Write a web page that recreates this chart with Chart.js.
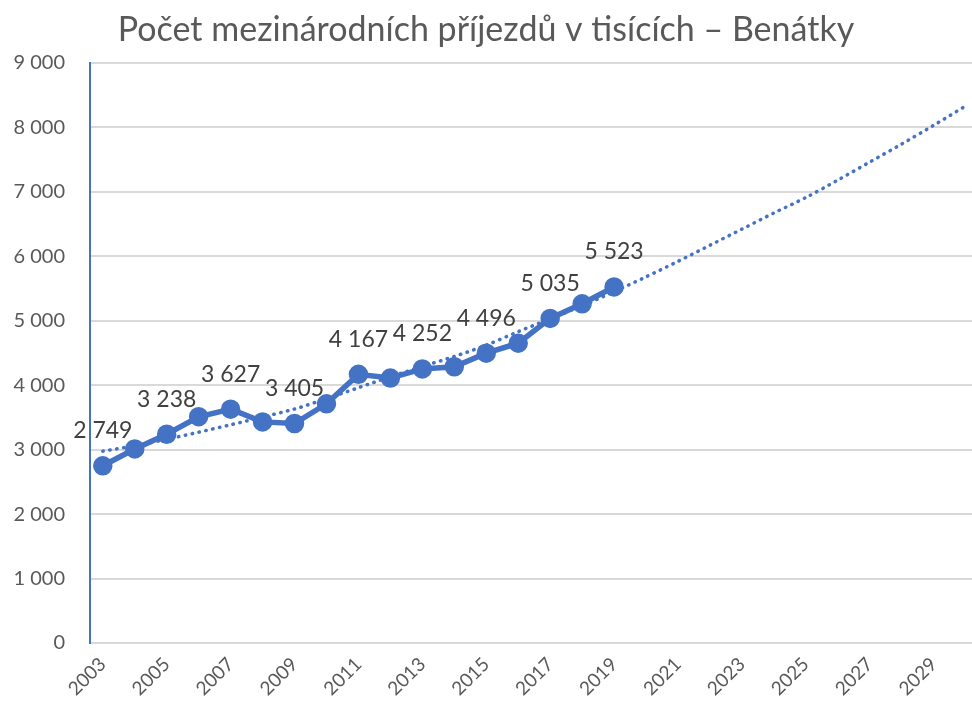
<!DOCTYPE html>
<html>
<head>
<meta charset="utf-8">
<script src="https://cdn.jsdelivr.net/npm/chart.js"></script>
<style>
  html, body { margin: 0; padding: 0; background: #fff; }
  #wrap { width: 972px; height: 707px; }
</style>
</head>
<body>
<div id="wrap"><canvas id="chart"></canvas></div>

<script>
    // arrivals (thousands)
    const years = [2003, 2004, 2005, 2006, 2007, 2008, 2009, 2010, 2011,
                   2012, 2013, 2014, 2015, 2016, 2017, 2018, 2019];
    const arrivals = [2749, 3010, 3238, 3510, 3627, 3430, 3405, 3710, 4167,
                      4110, 4252, 4285, 4496, 4650, 5035, 5262, 5523];

    // dotted trend line, extends to 2030
    const trendYears = [2003, 2004, 2005, 2006, 2007, 2008, 2009, 2010, 2011, 2012,
                        2013, 2014, 2015, 2016, 2017, 2018, 2019, 2020, 2021, 2022,
                        2023, 2024, 2025, 2026, 2027, 2028, 2029, 2030];
    const trend = [2975, 3060, 3160, 3270, 3385, 3505, 3630, 3790, 3960, 4130,
                   4290, 4445, 4620, 4830, 5030, 5230, 5450, 5680, 5920, 6170,
                   6420, 6670, 6910, 7180, 7460, 7740, 8030, 8330];

    const xTicks = [2003, 2005, 2007, 2009, 2011, 2013, 2015, 2017, 2019,
                    2021, 2023, 2025, 2027, 2029];
    const yTicks = [0, 1000, 2000, 3000, 4000, 5000, 6000, 7000, 8000, 9000];

    const blue = '#4472C4';
    const grey = '#595959';
    const fmt = v => String(v).replace(/\B(?=(\d{3})+(?!\d))/g, ' ');

    // value labels above every other point
    const valueLabels = {
        id: 'valueLabels',
        afterDatasetsDraw(chart) {
            const ctx = chart.ctx;
            const meta = chart.getDatasetMeta(0);
            ctx.save();
            ctx.font = '23px Lato';
            ctx.fillStyle = '#404040';
            ctx.textAlign = 'center';
            ctx.textBaseline = 'middle';
            meta.data.forEach((pt, i) => {
                if (i % 2 === 0) ctx.fillText(fmt(arrivals[i]), pt.x, pt.y - 35);
            });
            ctx.restore();
        }
    };

    new Chart(document.getElementById('chart'), {
        type: 'line',
        data: {
            datasets: [{
                data: years.map((y, i) => ({ x: y, y: arrivals[i] })),
                borderColor: blue,
                backgroundColor: blue,
                borderWidth: 5.5,
                pointRadius: 7,
                pointHoverRadius: 7,
                order: 1
            }, {
                data: trendYears.map((y, i) => ({ x: y, y: trend[i] })),
                borderColor: blue,
                borderWidth: 3.5,
                borderDash: [0.5, 6.5],
                borderCapStyle: 'round',
                pointRadius: 0,
                tension: 0.3,
                order: 2
            }]
        },
        plugins: [valueLabels],
        options: {
            responsive: true,
            maintainAspectRatio: false,
            animation: false,
            layout: { autoPadding: false, padding: 0 },
            plugins: {
                legend: { display: false },
                tooltip: { enabled: false },
                title: {
                    display: true,
                    text: 'Počet mezinárodních příjezdů v tisících – Benátky',
                    color: grey,
                    font: { family: 'Lato', size: 34, weight: 'normal' },
                    padding: { top: 10, bottom: 12 }
                }
            },
            scales: {
                x: {
                    type: 'linear',
                    min: 2002.6,
                    max: 2030.2,
                    afterBuildTicks: s => { s.ticks = xTicks.map(v => ({ value: v })); },
                    afterFit: s => { s.height = 64; },
                    grid: { display: false, drawTicks: false },
                    border: { color: '#D9D9D9', width: 2 },
                    ticks: {
                        color: grey,
                        font: { family: 'Lato', size: 19 },
                        minRotation: 45,
                        maxRotation: 45,
                        padding: 10,
                        autoSkip: false,
                        callback: v => String(v)
                    }
                },
                y: {
                    min: 0,
                    max: 9000,
                    afterBuildTicks: s => { s.ticks = yTicks.map(v => ({ value: v })); },
                    afterFit: s => { s.width = 90; },
                    grid: { color: '#D9D9D9', lineWidth: 2, drawTicks: false },
                    border: { color: blue, width: 2 },
                    ticks: {
                        color: grey,
                        font: { family: 'Lato', size: 20 },
                        padding: 25,
                        callback: v => fmt(v)
                    }
                }
            }
        }
    });
</script>
</body>
</html>
